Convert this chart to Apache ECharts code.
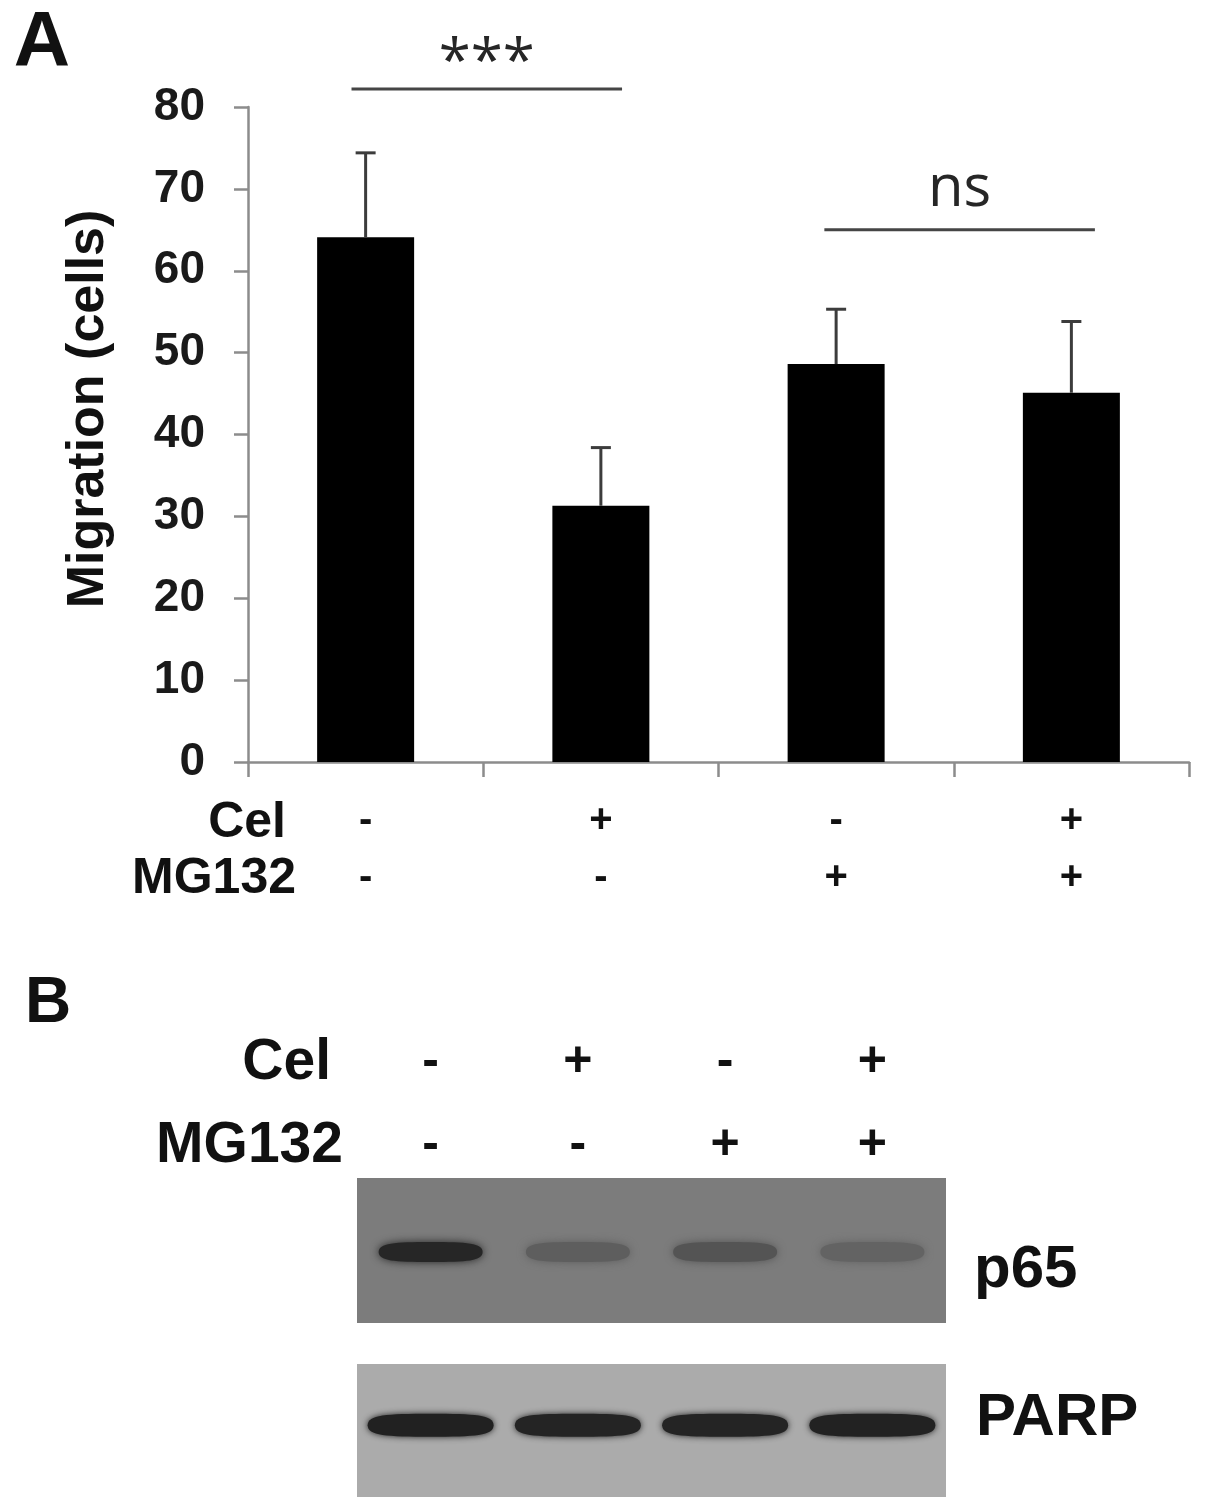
<!DOCTYPE html>
<html>
<head>
<meta charset="utf-8">
<script src="https://cdn.jsdelivr.net/npm/echarts@6/dist/echarts.min.js"></script>
<style>
  html, body { margin: 0; padding: 0; background: #fff; }
  #chart { width: 1205px; height: 1511px; }
</style>
</head>
<body>
<div id="chart"></div>
<script>
// panel A data
const groups = ['G1', 'G2', 'G3', 'G4'];
const celSigns = ['-', '+', '-', '+'];
const mgSigns = ['-', '-', '+', '+'];
const migration = [64.1, 31.3, 48.6, 45.1];
const migrationErr = [10.3, 7.1, 6.7, 8.7];
const yTicks = { min: 0, max: 80, step: 10 };

// significance brackets (x in category units, y in cells)
const sigLines = [
  { label: '***', x0: 0.44, x1: 1.59, y: 82.2, ty: 85.2 },
  { label: 'ns', x0: 2.45, x1: 3.60, y: 65.0, ty: 69.9 }
];

// panel B (western blot) relative band intensities
const lanes = ['L1', 'L2', 'L3', 'L4'];
const p65Intensity = [0.86, 0.3, 0.4, 0.25];
const parpIntensity = [0.94, 0.92, 0.92, 0.93];

const FONT = '"Liberation Sans", Arial, sans-serif';
const AXIS_GRAY = '#8c8c8c';
const ERR_GRAY = '#3c3c3c';
const BAND = 'path://M0,5 C0,0.5 3,0 10,0 C17,0 20,0.5 20,5 C20,9.5 17,10 10,10 C3,10 0,9.5 0,5 Z';

const mix = (bg, t) => {
  // background grey level -> near black by band intensity
  const v = Math.round(bg * (1 - t) + 24 * t);
  return `rgb(${v},${v},${v})`;
};

const signLabel = (i) => `{c|${celSigns[i]}}\n{m|${mgSigns[i]}}`;

const chart = echarts.init(document.getElementById('chart'));

const option = {
  backgroundColor: '#ffffff',
  animation: false,
  grid: [
    { left: 248, top: 107, width: 941, height: 655 },
    { left: 357, top: 1178, width: 589, height: 145, show: true, backgroundColor: '#7c7c7c', borderWidth: 0 },
    { left: 357, top: 1364, width: 589, height: 133, show: true, backgroundColor: '#ababab', borderWidth: 0 }
  ],
  xAxis: [
    {
      type: 'category', gridIndex: 0, data: groups,
      axisLine: { lineStyle: { color: AXIS_GRAY, width: 2.5 } },
      axisTick: { show: true, alignWithLabel: false, length: 15, lineStyle: { color: AXIS_GRAY, width: 2.5 } },
      axisLabel: {
        margin: 30,
        formatter: (v, i) => signLabel(i),
        rich: {
          c: { fontFamily: FONT, fontWeight: 'bold', fontSize: 40, color: '#111', lineHeight: 57 },
          m: { fontFamily: FONT, fontWeight: 'bold', fontSize: 40, color: '#111', lineHeight: 57 }
        }
      }
    },
    { type: 'value', gridIndex: 0, min: 0, max: 4, show: false },
    {
      type: 'category', gridIndex: 1, data: lanes, position: 'top',
      axisLine: { show: false }, axisTick: { show: false },
      axisLabel: {
        margin: 13,
        formatter: (v, i) => signLabel(i),
        rich: {
          c: { fontFamily: FONT, fontWeight: 'bold', fontSize: 50, color: '#111', lineHeight: 126 },
          m: { fontFamily: FONT, fontWeight: 'bold', fontSize: 50, color: '#111', lineHeight: 40 }
        }
      }
    },
    { type: 'category', gridIndex: 2, data: lanes, show: false }
  ],
  yAxis: [
    {
      type: 'value', gridIndex: 0, min: yTicks.min, max: yTicks.max, interval: yTicks.step,
      axisLine: { show: true, lineStyle: { color: AXIS_GRAY, width: 2.5 } },
      axisTick: { show: true, length: 14, lineStyle: { color: AXIS_GRAY, width: 2.5 } },
      axisLabel: { margin: 43, fontFamily: FONT, fontWeight: 'bold', fontSize: 46, color: '#1a1a1a' },
      splitLine: { show: false }
    },
    { type: 'value', gridIndex: 1, min: 0, max: 1, show: false },
    { type: 'value', gridIndex: 2, min: 0, max: 1, show: false }
  ],
  series: [
    {
      type: 'bar', xAxisIndex: 0, yAxisIndex: 0, data: migration,
      barWidth: 97, itemStyle: { color: '#000' }, z: 2
    },
    {
      type: 'custom', xAxisIndex: 0, yAxisIndex: 0, z: 3,
      data: migration.map((v, i) => [i, v, migrationErr[i]]),
      renderItem: (params, api) => {
        const x = api.value(0), y = api.value(1), e = api.value(2);
        const p0 = api.coord([x, y]);
        const p1 = api.coord([x, y + e]);
        const st = { stroke: ERR_GRAY, lineWidth: 3 };
        return {
          type: 'group', children: [
            { type: 'line', shape: { x1: p0[0], y1: p0[1], x2: p1[0], y2: p1[1] }, style: st },
            { type: 'line', shape: { x1: p1[0] - 10, y1: p1[1], x2: p1[0] + 10, y2: p1[1] }, style: st }
          ]
        };
      }
    },
    ...sigLines.map(s => ({
      type: 'line', xAxisIndex: 1, yAxisIndex: 0, clip: false, symbol: 'none',
      data: [[s.x0, s.y], [s.x1, s.y]],
      lineStyle: { color: '#454545', width: 3 }, z: 4
    })),
    {
      type: 'scatter', xAxisIndex: 1, yAxisIndex: 0, clip: false, symbolSize: 0,
      itemStyle: { opacity: 1 },
      data: sigLines.map(s => ({ value: [(s.x0 + s.x1) / 2, s.ty], name: s.label })),
      label: {
        show: true, position: 'inside', formatter: p => p.name,
        fontFamily: '"Open Sans", "DejaVu Sans", sans-serif', fontSize: 58, color: '#262626'
      }
    },
    {
      type: 'scatter', xAxisIndex: 2, yAxisIndex: 1, symbol: BAND,
      data: p65Intensity.map((t, i) => ({
        value: [i, 0.49],
        itemStyle: { opacity: 1, color: mix(124, t), shadowColor: mix(124, t), shadowBlur: 9 }
      })),
      symbolSize: [104, 20]
    },
    {
      type: 'scatter', xAxisIndex: 3, yAxisIndex: 2, symbol: BAND,
      data: parpIntensity.map((t, i) => ({
        value: [i, 0.54],
        itemStyle: { opacity: 1, color: mix(171, t), shadowColor: mix(171, t), shadowBlur: 6 }
      })),
      symbolSize: [126, 23]
    }
  ],
  graphic: [
    { type: 'text', style: { text: 'A', x: 42, y: 44, align: 'center', verticalAlign: 'middle', font: `bold 78px ${FONT}`, fill: '#111' } },
    { type: 'text', style: { text: 'B', x: 48, y: 1004, align: 'center', verticalAlign: 'middle', font: `bold 64px ${FONT}`, fill: '#111' } },
    {
      type: 'text', x: 89, y: 409, rotation: Math.PI / 2,
      style: { text: 'Migration (cells)', align: 'center', verticalAlign: 'middle', font: `bold 52px ${FONT}`, fill: '#111' }
    },
    { type: 'text', style: { text: 'Cel', x: 286, y: 823, align: 'right', verticalAlign: 'middle', font: `bold 50px ${FONT}`, fill: '#111' } },
    { type: 'text', style: { text: 'MG132', x: 296, y: 879, align: 'right', verticalAlign: 'middle', font: `bold 50px ${FONT}`, fill: '#111' } },
    { type: 'text', style: { text: 'Cel', x: 331, y: 1063, align: 'right', verticalAlign: 'middle', font: `bold 57px ${FONT}`, fill: '#111' } },
    { type: 'text', style: { text: 'MG132', x: 343, y: 1146, align: 'right', verticalAlign: 'middle', font: `bold 57px ${FONT}`, fill: '#111' } },
    { type: 'text', style: { text: 'p65', x: 974, y: 1270, align: 'left', verticalAlign: 'middle', font: `bold 60px ${FONT}`, fill: '#111' } },
    { type: 'text', style: { text: 'PARP', x: 976, y: 1418, align: 'left', verticalAlign: 'middle', font: `bold 60px ${FONT}`, fill: '#111' } }
  ]
};

chart.setOption(option);
window.addEventListener('resize', () => chart.resize());
</script>
</body>
</html>
